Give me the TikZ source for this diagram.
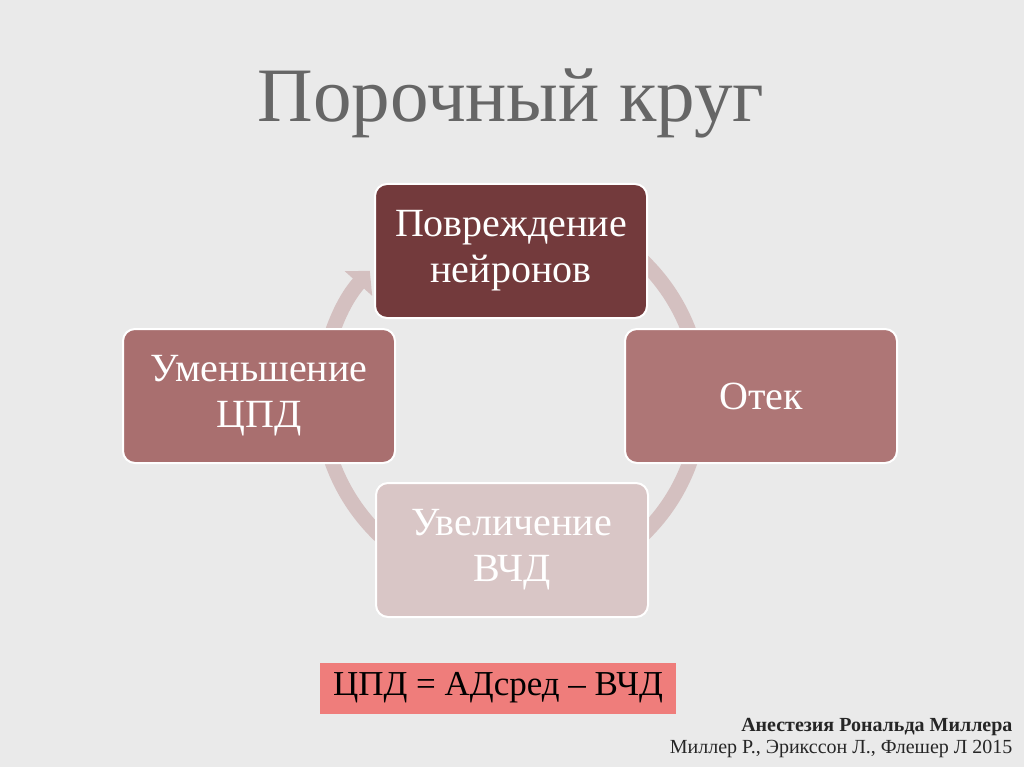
\documentclass[tikz,border=0pt]{standalone}
\usepackage{fontspec}
\setmainfont{Liberation Serif}
\usetikzlibrary{arrows.meta}
\definecolor{bg}{HTML}{EAEAEA}
\definecolor{ring}{HTML}{D4C0C0}
\definecolor{cA}{HTML}{733A3C}
\definecolor{cB}{HTML}{A96F6F}
\definecolor{cC}{HTML}{AE7676}
\definecolor{cD}{HTML}{D9C6C6}
\definecolor{fbox}{HTML}{EF7D7B}
\begin{document}
\begin{tikzpicture}[x=1pt,y=-1pt,
  stage/.style={draw=white,line width=2pt,rounded corners=12pt,minimum width=272pt,minimum height=134pt,align=center,text=white,font=\fontsize{40}{46}\selectfont}]
\fill[bg] (0,0) rectangle (1024,767);
\useasboundingbox (0,0) rectangle (1024,767);
\node[text=black!60,font=\fontsize{77}{84}\selectfont] (title) at (511,103) {Порочный круг};
\draw[ring,line width=15pt,-{Triangle[width=36pt,length=17pt]}] (511,398) ++(-85:190) arc[start angle=-85,end angle=222,radius=190];
\node[stage,fill=cA] (a) at (511,251) {Повреждение\\нейронов};
\node[stage,fill=cC] (b) at (761,396) {Отек};
\node[stage,fill=cD] (c) at (512,550) {Увеличение\\ВЧД};
\node[stage,fill=cB] (d) at (259,396) {Уменьшение\\ЦПД};
\node[fill=fbox,minimum width=356pt,minimum height=51pt,font=\fontsize{35}{38}\selectfont] (f) at (498,688) {ЦПД = АДсред – ВЧД};
\node[anchor=east,font=\bfseries\fontsize{20}{22}\selectfont,text=black!85] (r1) at (1016,727) {Анестезия Рональда Миллера};
\node[anchor=east,font=\fontsize{20}{22}\selectfont,text=black!85] (r2) at (1016,749) {Миллер Р., Эрикссон Л., Флешер Л 2015};
\end{tikzpicture}
\end{document}
